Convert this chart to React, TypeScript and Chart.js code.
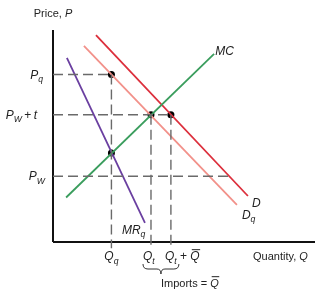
import React, { useEffect, useRef } from "react";
import { Chart, registerables } from "chart.js";
Chart.register(...registerables);

// Price levels: Pq, Pw + t, Pw
const priceLevels = [79, 60, 31];
// Quantity levels: Qq, Qt, Qt + Qbar
const quantityLevels = [22.3, 37.4, 45];
// Curves (endpoints)
const mcX = [5, 61.5];
const mcY = [21, 88.7];
const mrX = [5.3, 35.1];
const mrY = [86.8, 9];
const dX = [16.4, 74.4];
const dY = [97.6, 21.7];
const dqX = [11.8, 70.2];
const dqY = [92.5, 17.5];
// MC = MRq price at Qq
const mrDotY = [42];

const FONT = '"Liberation Sans", Arial, Helvetica, sans-serif';

type Part = { t: string; it?: boolean; sub?: boolean; bar?: boolean; size?: number };

function drawRich(ctx: CanvasRenderingContext2D, x: number, y: number, parts: Part[], align: "left" | "right" | "center", base = 12) {
  const fontOf = (p: Part) => {
    const s = p.size ?? (p.sub ? base * 0.72 : base);
    return `${p.it ? "italic " : ""}${s}px ${FONT}`;
  };
  let total = 0;
  const widths = parts.map((p) => {
    ctx.font = fontOf(p);
    const w = ctx.measureText(p.t).width;
    total += w;
    return w;
  });
  let cx = align === "left" ? x : align === "right" ? x - total : x - total / 2;
  ctx.textAlign = "left";
  ctx.textBaseline = "alphabetic";
  parts.forEach((p, i) => {
    ctx.font = fontOf(p);
    const yy = p.sub ? y + 3.5 : y;
    ctx.fillText(p.t, cx, yy);
    if (p.bar) {
      ctx.save();
      ctx.lineWidth = 1;
      ctx.beginPath();
      ctx.moveTo(cx + 1.5, y - base * 0.86);
      ctx.lineTo(cx + widths[i] + 0.5, y - base * 0.86);
      ctx.stroke();
      ctx.restore();
    }
    cx += widths[i];
  });
}

const textPlugin = {
  id: "econText",
  afterDatasetsDraw(chart: any) {
    const ctx: CanvasRenderingContext2D = chart.ctx;
    const xs = chart.scales.x;
    const ys = chart.scales.y;
    const X = (v: number) => xs.getPixelForValue(v);
    const Y = (v: number) => ys.getPixelForValue(v);
    ctx.save();
    ctx.fillStyle = "#222";
    ctx.strokeStyle = "#222";
    const x0 = X(0);
    const yb = Y(0);
    drawRich(ctx, x0, Y(100) - 13, [{ t: "Price, ", size: 11 }, { t: "P", it: true, size: 11 }], "center");
    drawRich(ctx, x0 - 10, Y(priceLevels[0]) + 4, [{ t: "P", it: true }, { t: "q", it: true, sub: true }], "right");
    drawRich(ctx, x0 - 16, Y(priceLevels[1]) + 4, [{ t: "P", it: true }, { t: "W", it: true, sub: true }, { t: "\u2009+\u2009" }, { t: "t", it: true }], "right");
    drawRich(ctx, x0 - 8, Y(priceLevels[2]) + 4, [{ t: "P", it: true }, { t: "W", it: true, sub: true }], "right");
    drawRich(ctx, X(mcX[1]) + 1, Y(mcY[1]) + 1, [{ t: "MC", it: true }], "left");
    drawRich(ctx, X(mrX[1]) - 23, Y(mrY[1]) + 11, [{ t: "MR", it: true }, { t: "q", it: true, sub: true }], "left");
    drawRich(ctx, X(dX[1]) + 4, Y(dY[1]) + 11, [{ t: "D", it: true }], "left");
    drawRich(ctx, X(dqX[1]) + 5, Y(dqY[1]) + 14, [{ t: "D", it: true }, { t: "q", it: true, sub: true }], "left");
    drawRich(ctx, X(quantityLevels[0]), yb + 18, [{ t: "Q", it: true }, { t: "q", it: true, sub: true }], "center");
    drawRich(ctx, X(quantityLevels[1]) - 8, yb + 18, [{ t: "Q", it: true }, { t: "t", it: true, sub: true }], "left");
    drawRich(ctx, X(quantityLevels[2]) - 6, yb + 18, [{ t: "Q", it: true }, { t: "t", it: true, sub: true }, { t: " + " }, { t: "Q", it: true, bar: true }], "left");
    drawRich(ctx, X(100) - 62, yb + 18, [{ t: "Quantity, ", size: 11 }, { t: "Q", it: true, size: 11 }], "left");
    drawRich(ctx, X(quantityLevels[1]) + 10, yb + 45, [{ t: "Imports = ", size: 11 }, { t: "Q", it: true, bar: true, size: 11 }], "left");
    // brace
    const bl = X(quantityLevels[1]) - 8;
    const br = X(quantityLevels[2]) + 8;
    const bm = (bl + br) / 2;
    const bt = yb + 22;
    ctx.lineWidth = 1;
    ctx.strokeStyle = "#333";
    ctx.beginPath();
    ctx.moveTo(bl, bt);
    ctx.quadraticCurveTo(bl, bt + 5, bl + 5, bt + 5);
    ctx.lineTo(bm - 4, bt + 5);
    ctx.quadraticCurveTo(bm, bt + 5, bm, bt + 10);
    ctx.quadraticCurveTo(bm, bt + 5, bm + 4, bt + 5);
    ctx.lineTo(br - 5, bt + 5);
    ctx.quadraticCurveTo(br, bt + 5, br, bt);
    ctx.stroke();
    ctx.restore();
  },
};

export default function App() {
  const ref = useRef<HTMLCanvasElement | null>(null);
  useEffect(() => {
    if (!ref.current) return;
    const [pq, pwt, pw] = priceLevels;
    const [qq, qt, qtq] = quantityLevels;
    const dSlope = (dY[1] - dY[0]) / (dX[1] - dX[0]);
    const xDatPw = dX[0] + (pw - dY[0]) / dSlope;
    const below = -3;
    const dashed = (data: { x: number; y: number }[]) => ({
      data,
      showLine: true,
      borderColor: "#6a6a6a",
      borderWidth: 1.4,
      borderDash: [10, 5],
      pointRadius: 0,
      clip: false as any,
    });
    const solid = (xsArr: number[], ysArr: number[], color: string, w = 1.8) => ({
      data: xsArr.map((x, i) => ({ x, y: ysArr[i] })),
      showLine: true,
      borderColor: color,
      borderWidth: w,
      pointRadius: 0,
      clip: false as any,
    });
    const chart = new Chart(ref.current, {
      type: "scatter",
      data: {
        datasets: [
          dashed([{ x: 0, y: pq }, { x: qq, y: pq }]),
          dashed([{ x: 0, y: pwt }, { x: qtq, y: pwt }]),
          dashed([{ x: 0, y: pw }, { x: xDatPw, y: pw }]),
          dashed([{ x: qq, y: pq }, { x: qq, y: below }]),
          dashed([{ x: qt, y: pwt }, { x: qt, y: below }]),
          dashed([{ x: qtq, y: pwt }, { x: qtq, y: below }]),
          solid(mcX, mcY, "#3a9d5d"),
          solid(mrX, mrY, "#6a3fa0"),
          solid(dqX, dqY, "#f2918a"),
          solid(dX, dY, "#dc2f3c"),
          solid([0, 0], [0, 100], "#111", 2),
          solid([0, 100], [0, 0], "#111", 2),
          {
            data: [
              { x: qq, y: pq },
              { x: qt, y: pwt },
              { x: qtq, y: pwt },
              { x: qq, y: mrDotY[0] },
            ],
            showLine: false,
            pointRadius: 3.5,
            pointBackgroundColor: "#000",
            pointBorderColor: "#000",
            pointBorderWidth: 0,
            clip: false as any,
          },
        ],
      },
      options: {
        animation: false,
        responsive: false,
        events: [],
        layout: { padding: { left: 53, top: 30, right: 4, bottom: 55 } },
        plugins: { legend: { display: false }, tooltip: { enabled: false } },
        scales: {
          x: { type: "linear", min: 0, max: 100, display: false },
          y: { type: "linear", min: 0, max: 100, display: false },
        },
      },
      plugins: [textPlugin],
    });
    return () => chart.destroy();
  }, []);
  return (
    <div style={{ position: "absolute", left: 0, top: 0, width: 319, height: 297, background: "#fff" }}>
      <canvas ref={ref} width={319} height={297} style={{ display: "block", width: 319, height: 297 }} />
    </div>
  );
}
